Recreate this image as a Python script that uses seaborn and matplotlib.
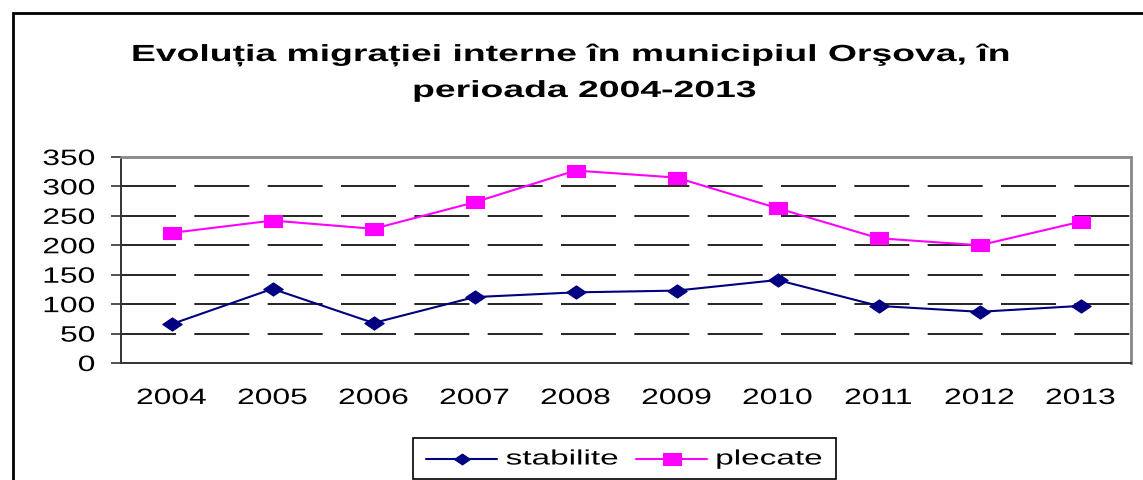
import pandas as pd
import matplotlib.pyplot as plt
import matplotlib.patches as mpatches
from matplotlib.lines import Line2D
from matplotlib.path import Path
from matplotlib.patheffects import AbstractPathEffect
from matplotlib.transforms import Affine2D
import seaborn as sns

# DATA
YEARS = ['2004', '2005', '2006', '2007', '2008', '2009', '2010', '2011', '2012', '2013']
STABILITE = [66, 126, 68, 112, 120, 123, 141, 97, 87, 97]
PLECATE = [221, 242, 228, 273, 327, 315, 263, 212, 200, 240]
Y_TICKS = [0, 50, 100, 150, 200, 250, 300, 350]

TITLE_1 = 'Evoluția migrației interne în municipiul Orşova, în'
TITLE_2 = 'perioada 2004-2013'

NAVY = '#000080'
MAGENTA = '#FF00FF'
W, H = 1143, 480

# wide markers (the original chart is horizontally stretched)
DIAMOND = Path([(-1, 0), (0, 0.68), (1, 0), (0, -0.68), (-1, 0)],
               [Path.MOVETO, Path.LINETO, Path.LINETO, Path.LINETO, Path.CLOSEPOLY])
SQUARE = Path([(-1, -0.68), (1, -0.68), (1, 0.68), (-1, 0.68), (-1, -0.68)],
              [Path.MOVETO, Path.LINETO, Path.LINETO, Path.LINETO, Path.CLOSEPOLY])


class Stretch(AbstractPathEffect):
    """Stretch text horizontally around one of its edges / its centre."""

    def __init__(self, sx, anchor='center'):
        super().__init__()
        self.sx = sx
        self.anchor = anchor

    def draw_path(self, renderer, gc, tpath, affine, rgbFace=None):
        ext = tpath.get_extents()
        if self.anchor == 'left':
            cx = ext.x0
        elif self.anchor == 'right':
            cx = ext.x1
        else:
            cx = (ext.x0 + ext.x1) / 2
        a = Affine2D().translate(-cx, 0).scale(self.sx, 1).translate(cx, 0) + affine
        renderer.draw_path(gc, tpath, a, rgbFace)


def fx(px):
    return px / W


def fy(py):
    return 1 - py / H


def make_chart():
    sns.set_style('white')
    plt.rcParams['font.family'] = ['Liberation Sans', 'DejaVu Sans']
    plt.rcParams['text.color'] = 'black'

    df = pd.DataFrame({
        'pos': list(range(len(YEARS))) * 2,
        'value': STABILITE + PLECATE,
        'serie': ['stabilite'] * len(YEARS) + ['plecate'] * len(YEARS),
    })

    fig = plt.figure(figsize=(W / 100, H / 100), dpi=100)
    ax = fig.add_axes([fx(121), fy(363), 1010 / W, 206 / H])

    sns.lineplot(data=df[df['serie'] == 'stabilite'], x='pos', y='value', ax=ax,
                 color=NAVY, marker=DIAMOND, markersize=14, linewidth=1.5,
                 markeredgecolor=NAVY, markeredgewidth=0.8, legend=False, zorder=3)
    sns.lineplot(data=df[df['serie'] == 'plecate'], x='pos', y='value', ax=ax,
                 color=MAGENTA, marker=SQUARE, markersize=13.5, linewidth=1.5,
                 markeredgecolor=MAGENTA, markeredgewidth=0.8, legend=False, zorder=3)

    ax.set_xlim(-0.5, len(YEARS) - 0.5)
    ax.set_ylim(0, 350)
    ax.set_yticks(Y_TICKS)
    ax.set_yticklabels([str(v) for v in Y_TICKS], fontsize=16)
    ax.set_xticks(range(len(YEARS)))
    ax.set_xticklabels(YEARS, fontsize=16)
    ax.set_xticks([i - 0.5 for i in range(len(YEARS) + 1)], minor=True)
    ax.tick_params(axis='x', which='major', length=0, pad=18, labelcolor='black')
    ax.tick_params(axis='x', which='minor', length=8, width=1.2, color='#333333')
    ax.tick_params(axis='y', length=7.2, width=1.2, color='#333333', pad=11.5,
                   left=True, labelcolor='black')
    ax.set_xlabel('')
    ax.set_ylabel('')
    for lab in ax.get_xticklabels():
        lab.set_path_effects([Stretch(1.43, 'center')])
    for lab in ax.get_yticklabels():
        lab.set_path_effects([Stretch(1.43, 'right')])

    # dashed horizontal gridlines
    for v in Y_TICKS[1:-1]:
        ax.axhline(v, color='black', linewidth=1.2, linestyle=(0, (33, 11)), zorder=0)

    for side in ['left', 'bottom']:
        ax.spines[side].set_color('#333333')
        ax.spines[side].set_linewidth(1.4)
    for side in ['top', 'right']:
        ax.spines[side].set_color('#888888')
        ax.spines[side].set_linewidth(2)

    # title, two centred lines
    t1 = fig.text(fx(571.5), fy(61), TITLE_1, ha='center', va='baseline',
                  fontsize=16.8, fontweight='bold')
    t2 = fig.text(fx(584.5), fy(97), TITLE_2, ha='center', va='baseline',
                  fontsize=16.8, fontweight='bold')
    for t in (t1, t2):
        t.set_path_effects([Stretch(1.6, 'center')])

    # legend box
    box = mpatches.Rectangle((fx(413), fy(479)), (836 - 413) / W, (479 - 438) / H,
                             transform=fig.transFigure, fill=False,
                             edgecolor='black', linewidth=1.2)
    fig.patches.append(box)
    entries = [('stabilite', NAVY, DIAMOND, 426, 11.5),
               ('plecate', MAGENTA, SQUARE, 636, 12.5)]
    for label, color, marker, x0, ms in entries:
        fig.add_artist(Line2D([fx(x0), fx(x0 + 71)], [fy(459), fy(459)],
                              transform=fig.transFigure, color=color, linewidth=1.5))
        fig.add_artist(Line2D([fx(x0 + 35.5)], [fy(459)], transform=fig.transFigure,
                              marker=marker, markersize=ms, color=color,
                              markeredgecolor=color, markeredgewidth=0.8,
                              linestyle='none'))
        lt = fig.text(fx(x0 + 80), fy(459), label, ha='left', va='center', fontsize=15)
        lt.set_path_effects([Stretch(1.6, 'left')])

    # outer chart frame (cut by the image edges)
    frame = mpatches.Rectangle((fx(13), -0.1), 1.2, fy(13) + 0.1,
                               transform=fig.transFigure, fill=False,
                               edgecolor='black', linewidth=2, clip_on=False)
    fig.patches.append(frame)

    fig.savefig('out.png', dpi=100)


if __name__ == '__main__':
    make_chart()
